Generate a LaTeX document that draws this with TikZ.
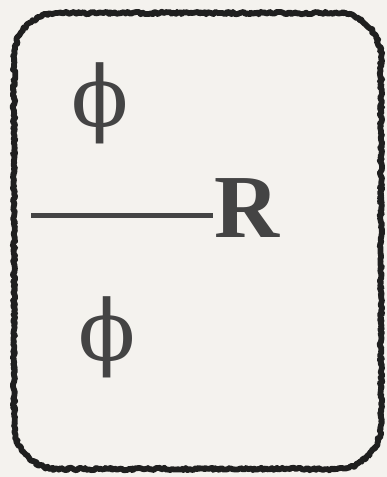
\documentclass[tikz,border=0pt]{standalone}
\usepackage{fontspec}
\setmainfont{Liberation Serif}
\newfontfamily\phifont{DejaVu Serif}
\usetikzlibrary{decorations.pathmorphing}
\definecolor{paper}{HTML}{F4F2EE}
\definecolor{ink}{HTML}{444444}
\definecolor{frame}{HTML}{1F1F1F}
\begin{document}
\begin{tikzpicture}[x=1pt,y=1pt,
  glyph/.style={inner sep=0pt, text=ink},
  rough/.style={draw=frame, line width=5.8pt, line join=round,
    decorate, decoration={random steps, segment length=1.8pt, amplitude=1.3pt}}]
\fill[paper] (0,0) rectangle (387,477);
\useasboundingbox (0,0) rectangle (387,477);
% frame
\draw[rough] (58,464) -- (337,464) arc[start angle=90,end angle=0,radius=44]
  -- (381,52) arc[start angle=0,end angle=-90,radius=44]
  -- (58,8) arc[start angle=270,end angle=180,radius=44]
  -- (14,420) arc[start angle=180,end angle=90,radius=44] -- cycle;
\node[glyph, font=\phifont\fontsize{84}{84}\selectfont] (phitop) at (100,374) {ϕ};
\node[glyph, font=\phifont\fontsize{84}{84}\selectfont] (phibot) at (107,140) {ϕ};
\node[glyph, anchor=base west, inner sep=1pt, font=\fontsize{90}{90}\selectfont\bfseries] (R) at (213,239) {R};
\coordinate (lstart) at (31,261);
\draw[ink, line width=5pt] (lstart) -- (lstart -| R.west);
\end{tikzpicture}
\end{document}
